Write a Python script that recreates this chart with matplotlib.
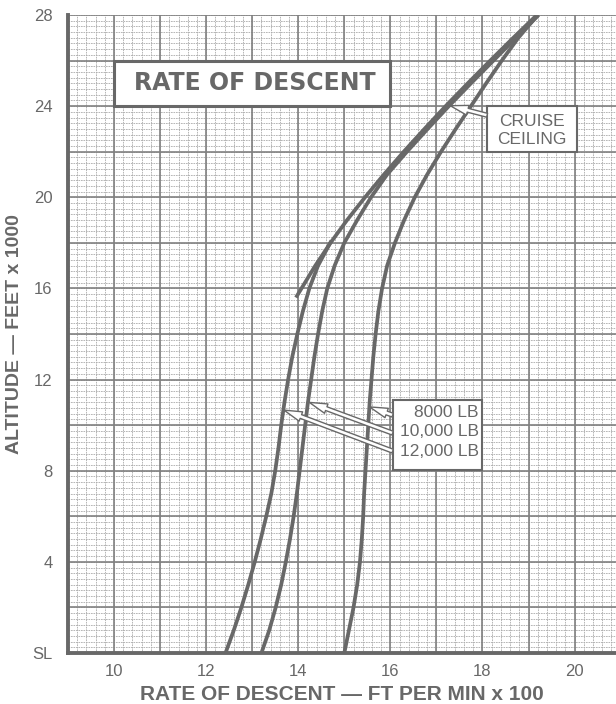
import numpy as np
import matplotlib.pyplot as plt
from matplotlib.patches import Rectangle

# rate of descent (ft/min x 100) against altitude (ft x 1000)
alt_12000 = [0, 1, 2, 3, 4, 5, 6, 7, 8, 9, 10, 11, 12, 13, 14, 15, 16, 17, 18.1]
rod_12000 = [12.42, 12.6, 12.765, 12.915, 13.055, 13.185, 13.305, 13.415, 13.5, 13.57, 13.63,
             13.7, 13.78, 13.87, 13.98, 14.1, 14.24, 14.43, 14.72]

alt_10000 = [0, 1, 2, 3, 4, 5, 6, 7, 8, 9, 10, 11, 12, 13, 14, 15, 16, 17, 18, 19, 20,
             21, 22, 23, 24, 25, 26, 27, 28]
rod_10000 = [13.2, 13.37, 13.51, 13.63, 13.73, 13.82, 13.9, 13.97, 14.03, 14.09, 14.15, 14.21,
             14.28, 14.35, 14.43, 14.52, 14.63, 14.79, 15.0, 15.28, 15.58, 15.93, 16.36, 16.81,
             17.27, 17.75, 18.24, 18.73, 19.22]

alt_8000 = [0, 0.5, 1, 2, 3, 4, 5, 6, 7, 8, 9, 10, 11, 12, 13, 14, 15, 16, 17, 18, 19, 20,
            21, 22, 23, 24, 25, 26, 27, 28]
rod_8000 = [15.0, 15.05, 15.1, 15.2, 15.28, 15.34, 15.38, 15.41, 15.43, 15.46, 15.49, 15.52,
            15.55, 15.59, 15.63, 15.68, 15.74, 15.82, 15.93, 16.1, 16.3, 16.53, 16.8, 17.1,
            17.42, 17.75, 18.08, 18.42, 18.78, 19.2]

alt_ceiling = [15.6, 16, 17, 18, 19, 20, 21, 22, 23, 24, 25, 26, 27, 28]
rod_ceiling = [13.95, 14.07, 14.37, 14.7, 15.06, 15.45, 15.86, 16.29, 16.74, 17.2, 17.68,
               18.17, 18.67, 19.18]

x_ticks = [10, 12, 14, 16, 18, 20]
y_ticks = [0, 4, 8, 12, 16, 20, 24, 28]
y_labels = ['SL', '4', '8', '12', '16', '20', '24', '28']

ink = '#686868'
plt.rcParams['font.family'] = ['Liberation Sans', 'DejaVu Sans']

fig = plt.figure(figsize=(6.16, 7.04), dpi=100)
ax = fig.add_axes([0.1104, 0.0724, 0.8896, 0.9063])
ax.set_xlim(9, 20.9)
ax.set_ylim(0, 28)

# graph paper
ax.vlines(np.arange(9, 21, 0.2), 0, 28, colors='#ababab', lw=0.6, linestyles=(0, (2, 1)), zorder=1)
ax.hlines(np.arange(0, 28.01, 0.25), 9, 20.9, colors='#ababab', lw=0.6, linestyles=(0, (2, 1)), zorder=1)
ax.vlines(np.arange(10, 21, 1), 0, 28, colors='#808080', lw=1.2, zorder=2)
ax.hlines(np.arange(2, 28.01, 2), 9, 20.9, colors='#808080', lw=1.2, zorder=2)

for side in ['top', 'right']:
    ax.spines[side].set_visible(False)
for side in ['left', 'bottom']:
    ax.spines[side].set_color(ink)
    ax.spines[side].set_linewidth(2.8)

ax.set_xticks(x_ticks)
ax.set_yticks(y_ticks)
ax.set_yticklabels(y_labels)
ax.tick_params(length=0, labelsize=12, labelcolor=ink)
ax.tick_params(axis='x', pad=8)
ax.tick_params(axis='y', pad=11)

ax.set_xlabel('RATE OF DESCENT — FT PER MIN x 100', fontsize=15, fontweight='bold',
              color=ink, labelpad=4)
ax.set_ylabel('ALTITUDE — FEET x 1000', fontsize=14, fontweight='bold', color=ink, labelpad=7)

# curves
for rod, alt in [(rod_12000, alt_12000), (rod_10000, alt_10000), (rod_8000, alt_8000),
                 (rod_ceiling, alt_ceiling)]:
    ax.plot(rod, alt, color=ink, lw=2.7, solid_capstyle='butt', solid_joinstyle='round', zorder=5)

# title box
ax.add_patch(Rectangle((10, 24), 6, 2, fc='white', ec=ink, lw=2.2, zorder=6))
ax.text(13.05, 25.0, 'RATE OF DESCENT', fontsize=17, fontweight='bold', color=ink,
        family='DejaVu Sans', ha='center', va='center', zorder=7)

# cruise ceiling label
ax.add_patch(Rectangle((18.1, 22), 1.95, 2, fc='white', ec=ink, lw=1.5, zorder=6))
ax.text(19.07, 22.95, 'CRUISE\nCEILING', fontsize=12.5, color=ink, ha='center', va='center',
        linespacing=1.25, zorder=7)
arrow = dict(arrowstyle='simple,head_length=1.0,head_width=0.55,tail_width=0.22',
             mutation_scale=13, fc='white', ec=ink, lw=1, shrinkA=0, shrinkB=0)
ax.annotate('', xy=(17.3, 24.02), xytext=(18.1, 23.6), arrowprops=arrow, zorder=8)

# weight labels
ax.add_patch(Rectangle((16.05, 8.05), 1.95, 3.05, fc='white', ec=ink, lw=1.5, zorder=6))
weights = ['8000 LB', '10,000 LB', '12,000 LB']
label_y = [10.55, 9.7, 8.85]
tips = [(15.55, 10.8), (14.24, 11.0), (13.69, 10.66)]
tails = [(16.05, 10.44), (16.05, 9.65), (16.05, 8.86)]
for name, ly, tip, tail in zip(weights, label_y, tips, tails):
    ax.text(17.92, ly, name, fontsize=12.5, color=ink, ha='right', va='center', zorder=7)
    ax.annotate('', xy=tip, xytext=tail, arrowprops=arrow, zorder=8)

fig.savefig('out.png', dpi=100, facecolor='white')
